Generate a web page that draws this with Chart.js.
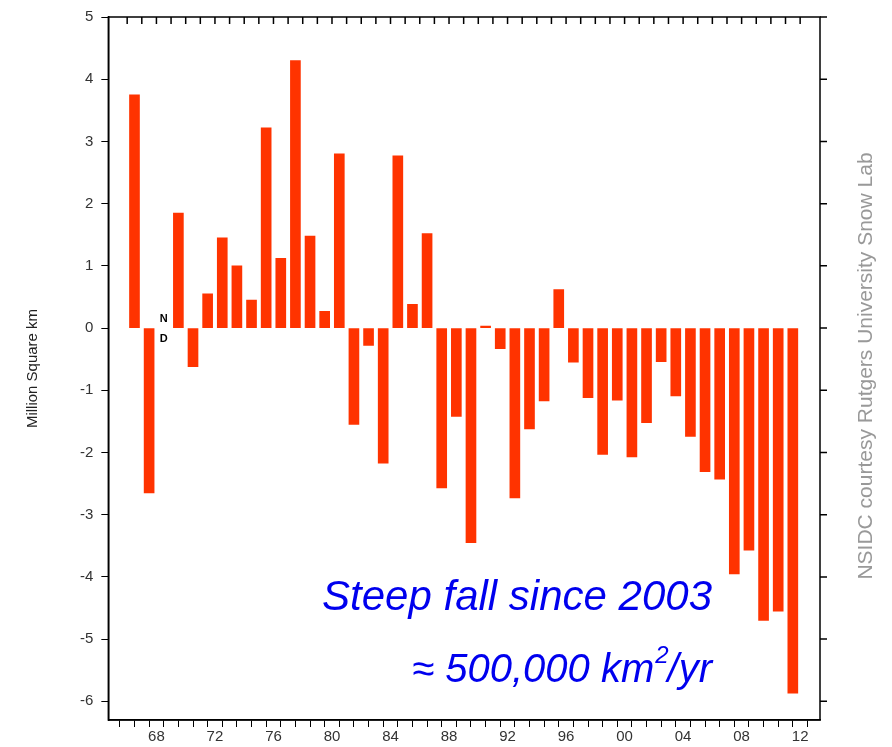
<!DOCTYPE html>
<html>
<head>
<meta charset="utf-8">
<script src="https://cdn.jsdelivr.net/npm/chart.js@4/dist/chart.umd.min.js"></script>
<style>
  body { margin: 0; background: #fff; }
  #wrap { width: 892px; height: 747px; position: relative; }
</style>
</head>
<body>
<div id="wrap"><canvas id="c" width="892" height="747"></canvas></div>
<script>
// snow cover anomaly, million km², 1969 has no data
const years = [];
for (let y = 1967; y <= 2012; y++) years.push(y);
const anomaly = [
  3.75, -2.65, null, 1.85, -0.62, 0.55, 1.45, 1.0, 0.45, 3.22,
  1.12, 4.3, 1.48, 0.27, 2.8, -1.55, -0.28, -2.17, 2.77, 0.38,
  1.52, -2.57, -1.42, -3.45, 0.03, -0.33, -2.73, -1.62, -1.17, 0.62,
  -0.55, -1.12, -2.03, -1.16, -2.07, -1.52, -0.54, -1.09, -1.74, -2.31,
  -2.43, -3.95, -3.57, -4.7, -4.55, -5.87
];
const yTicks = [-6, -5, -4, -3, -2, -1, 0, 1, 2, 3, 4, 5];
const xTickYears = [1968, 1972, 1976, 1980, 1984, 1988, 1992, 1996, 2000, 2004, 2008, 2012];

const points = years.map((y, i) => ({ x: y, y: anomaly[i] }));
const FONT = '"Liberation Sans", Arial, sans-serif';

// ticks on top and right edges; ND marker; annotations
const extras = {
  id: 'extras',
  afterDraw(chart) {
    const ctx = chart.ctx, xs = chart.scales.x, ys = chart.scales.y, a = chart.chartArea;
    ctx.save();
    ctx.strokeStyle = '#000';
    ctx.lineWidth = 1.5;
    ctx.strokeRect(a.left, a.top, a.right - a.left, a.bottom - a.top);
    ctx.beginPath();
    for (let y = 1966; y <= 2012; y++) {
      const px = xs.getPixelForValue(y + 0.5);
      ctx.moveTo(px, a.top); ctx.lineTo(px, a.top + 7);
    }
    yTicks.forEach(v => {
      const py = ys.getPixelForValue(v);
      ctx.moveTo(a.right, py); ctx.lineTo(a.right + 7, py);
    });
    ctx.stroke();
    // ND
    ctx.fillStyle = '#000';
    ctx.font = 'bold 11px ' + FONT;
    ctx.textAlign = 'center';
    const ndx = xs.getPixelForValue(1969), zy = ys.getPixelForValue(0);
    ctx.fillText('N', ndx, zy - 6);
    ctx.fillText('D', ndx, zy + 14);
    // annotations
    ctx.fillStyle = '#0000ee';
    ctx.textAlign = 'right';
    ctx.font = 'italic 42px ' + FONT;
    ctx.fillText('Steep fall since 2003', 712, 610);
    ctx.textAlign = 'left';
    const big = 'italic 40px ' + FONT, sup = 'italic 24px ' + FONT;
    ctx.font = big;
    const w1 = ctx.measureText('≈ 500,000 km').width, w3 = ctx.measureText('/yr').width;
    ctx.font = sup;
    const w2 = ctx.measureText('2').width;
    let x0 = 712 - w1 - w2 - w3;
    ctx.font = big;
    ctx.fillText('≈ 500,000 km', x0, 682);
    ctx.font = sup;
    ctx.fillText('2', x0 + w1 + 1, 663);
    ctx.font = big;
    ctx.fillText('/yr', x0 + w1 + w2, 682);
    // credit
    ctx.fillStyle = '#999';
    ctx.font = '21px ' + FONT;
    ctx.translate(872, 366);
    ctx.rotate(-Math.PI / 2);
    ctx.textAlign = 'center';
    ctx.fillText('NSIDC courtesy Rutgers University Snow Lab', 0, 0);
    ctx.restore();
  }
};

new Chart(document.getElementById('c'), {
  type: 'bar',
  data: {
    datasets: [{
      data: points,
      backgroundColor: '#ff3300',
      borderWidth: 0,
      barThickness: 10
    }]
  },
  options: {
    responsive: false,
    animation: false,
    layout: { padding: { top: 15, right: 72, bottom: 0, left: 20 } },
    plugins: { legend: { display: false }, tooltip: { enabled: false } },
    scales: {
      x: {
        type: 'linear',
        min: 1965.73,
        max: 2013.34,
        afterBuildTicks(axis) {
          const t = [];
          for (let y = 1966; y <= 2012; y++) t.push({ value: y + 0.5 });
          axis.ticks = t;
        },
        grid: { drawOnChartArea: false, tickLength: 7, color: '#000', lineWidth: 1 },
        border: { color: '#000', width: 1.5 },
        ticks: {
          autoSkip: false,
          maxRotation: 0,
          color: '#333',
          font: { size: 15, family: FONT },
          padding: 1,
          callback(v) {
            const y = Math.round(v - 0.5);
            return xTickYears.includes(y) ? String(y).slice(2) : '';
          }
        }
      },
      y: {
        min: -6.3,
        max: 5,
        afterBuildTicks(axis) { axis.ticks = yTicks.map(v => ({ value: v })); },
        grid: { drawOnChartArea: false, tickLength: 7, color: '#000', lineWidth: 1 },
        border: { color: '#000', width: 1.5 },
        ticks: {
          color: '#333',
          font: { size: 15, family: FONT },
          padding: 8
        },
        title: {
          display: true,
          text: 'Million Square km',
          color: '#222',
          font: { size: 15, family: FONT },
          padding: { bottom: 30 }
        }
      }
    }
  },
  plugins: [extras]
});
</script>
</body>
</html>
